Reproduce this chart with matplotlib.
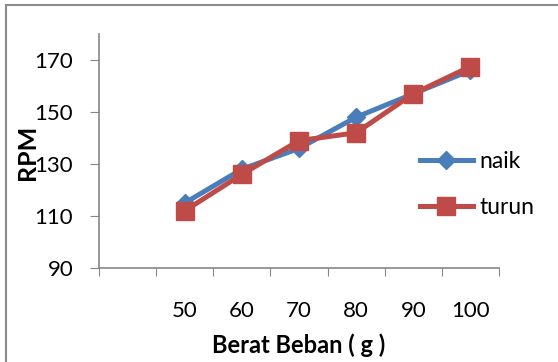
import matplotlib
matplotlib.use("Agg")
import matplotlib.pyplot as plt
from matplotlib.lines import Line2D

# data
categories = ["", "50", "60", "70", "80", "90", "100"]
naik = [None, 115, 128, 136, 148, 157, 166]
turun = [None, 112, 126, 139, 142, 157, 167.5]
y_ticks = [90, 110, 130, 150, 170]

plt.rcParams['font.family'] = ['Lato', 'DejaVu Sans']

fig = plt.figure(figsize=(5.58, 3.62), dpi=100)
ax = fig.add_axes([99/558, 1-268/362, 400/558, 234/362])

x = list(range(len(categories)))
xs_n = [i for i, v in zip(x, naik) if v is not None]
ys_n = [v for v in naik if v is not None]
xs_t = [i for i, v in zip(x, turun) if v is not None]
ys_t = [v for v in turun if v is not None]

ax.plot(xs_n, ys_n, color='#4A7EBB', lw=3.6, marker='D', markersize=9.5,
        label='naik')
ax.plot(xs_t, ys_t, color='#BE4B48', lw=3.6, marker='s', markersize=13.5,
        label='turun')

ax.set_xlim(-0.5, len(categories) - 0.5)
ax.set_ylim(90, 180)
ax.set_yticks(y_ticks)
ax.set_yticklabels([str(v) for v in y_ticks], fontsize=16)

# category boundaries as tick marks, labels at centres
ax.set_xticks([i - 0.5 for i in range(len(categories) + 1)])
ax.set_xticklabels([])
ax.set_xticks(x, minor=True)
ax.set_xticklabels(categories, minor=True, fontsize=16)
ax.tick_params(axis='x', which='minor', length=0, pad=24)
ax.tick_params(axis='x', which='major', length=6, color='#868686', direction='out')
ax.tick_params(axis='y', length=6.5, color='#868686', direction='out', pad=12)

for s in ['top', 'right']:
    ax.spines[s].set_visible(False)
for s in ['left', 'bottom']:
    ax.spines[s].set_color('#868686')
    ax.spines[s].set_linewidth(1.2)

ax.set_xlabel('Berat Beban ( g )', fontsize=17, fontweight='bold')
ax.xaxis.label.set_va('center')
ax.xaxis.set_label_coords(0.5, (268-345)/234)
ax.set_ylabel('RPM', fontsize=18, fontweight='bold')
ax.yaxis.label.set_va('center')
ax.yaxis.set_label_coords(-0.18, (268-152)/234)

fig.legend(loc='center left', bbox_to_anchor=(420/558, 1-184.5/362),
           frameon=False, fontsize=16.5, handlelength=2.3, handletextpad=0.3,
           labelspacing=1.1, borderpad=0, borderaxespad=0)

# thin grey frame on the left and top of the picture
fig.add_artist(Line2D([6/558, 6/558], [0, 1-5/362], transform=fig.transFigure,
                      color='#8c8c8c', lw=1.5))
fig.add_artist(Line2D([6/558, 1], [1-5/362, 1-5/362], transform=fig.transFigure,
                      color='#8c8c8c', lw=1.5))

fig.savefig('out.png', dpi=100)
